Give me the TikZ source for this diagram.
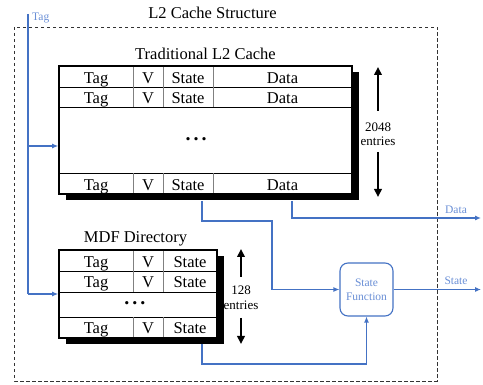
\documentclass[tikz,border=0pt]{standalone}
\usepackage{fontspec}
\setmainfont{Liberation Serif}
\usetikzlibrary{arrows.meta,shadows}
\definecolor{blu}{HTML}{4472C4}
\definecolor{blulight}{HTML}{6A8FD6}
\begin{document}
\begin{tikzpicture}[x=1pt,y=-1pt,
  tabframe/.style={draw, line width=1.6pt, fill=white, inner sep=0pt,
    general shadow={fill=black, shadow xshift=6.5pt, shadow yshift=-6.5pt}},
  rowline/.style={line width=0.9pt, black},
  colline/.style={line width=0.9pt, gray},
  celltxt/.style={anchor=base, inner sep=0pt, font=\fontsize{16.5}{18}\selectfont},
  titletxt/.style={anchor=base, inner sep=0pt, font=\fontsize{16.5}{18}\selectfont},
  smalltxt/.style={inner sep=0pt, font=\fontsize{13}{14}\selectfont},
  bluetxt/.style={inner sep=0pt, text=blulight, font=\fontsize{11.5}{12}\selectfont},
  bluline/.style={draw=blu, line width=1.1pt},
  bluarrow/.style={bluline, -{Latex[length=6pt,width=5pt]}},
  bigarrow/.style={line width=2.4pt, -{Triangle[length=8pt,width=7.5pt]}},
  sfbox/.style={draw=blu, line width=1.1pt, rounded corners=8pt, fill=white,
    minimum width=53pt, minimum height=53pt, inner sep=0pt, align=center,
    text=blulight, font=\fontsize{11.5}{13.5}\selectfont},
  dotstxt/.style={inner sep=0pt, font=\fontsize{20}{22}\selectfont\bfseries}
]
\useasboundingbox (0,0) rectangle (483,385);

% outer dashed box
\draw[dash pattern=on 3.5pt off 2.5pt, line width=0.8pt, black!80] (14,27) rectangle (437,381);
\node[titletxt] (title) at (212.5,18.5) {L2 Cache Structure};

% ---------------- Traditional L2 cache
\node[titletxt] (tradtitle) at (205.5,59.5) {Traditional L2 Cache};
\node[tabframe, minimum width=293pt, minimum height=128pt] (trad) at (205.5,130) {};
\foreach \y in {87,107.5,173} \draw[rowline] (59,\y) -- (352,\y);
\foreach \x in {133,163,213} {
  \draw[colline] (\x,67) -- (\x,107.5);
  \draw[colline] (\x,173) -- (\x,193);
}
\foreach \b/\r in {83.5/a,104/b,190.5/c} {
  \node[celltxt] (tag\r) at (96,\b) {Tag};
  \node[celltxt] (v\r) at (148,\b) {V};
  \node[celltxt] (st\r) at (188,\b) {State};
  \node[celltxt] (da\r) at (282.5,\b) {Data};
}
\node[dotstxt] (tdots) at (196,139.5) {.\hspace{3pt}.\hspace{3pt}.};

% 2048 entries
\coordinate (u1s) at (378,111);
\coordinate (u1e) at (378,67);
\coordinate (d1s) at (378,152);
\coordinate (d1e) at (378,197);
\draw[bigarrow] (u1s) -- (u1e);
\draw[bigarrow] (d1s) -- (d1e);
\node[smalltxt] (n2048) at (378,127) {2048};
\node[smalltxt] (ent1) at (378,141) {entries};

% ---------------- MDF directory
\node[titletxt] (mdftitle) at (135.5,243) {MDF Directory};
\node[tabframe, minimum width=158pt, minimum height=88pt] (mdf) at (138,294) {};
\foreach \y in {271,292,317} \draw[rowline] (59,\y) -- (217,\y);
\foreach \x in {133,163} {
  \draw[colline] (\x,251) -- (\x,292);
  \draw[colline] (\x,317) -- (\x,337);
}
\foreach \b/\r in {267.5/a,288/b,334/c} {
  \node[celltxt] (mtag\r) at (96,\b) {Tag};
  \node[celltxt] (mv\r) at (148,\b) {V};
  \node[celltxt] (mst\r) at (190,\b) {State};
}
\node[dotstxt] (mdots) at (135,303.5) {.\hspace{3pt}.\hspace{3pt}.};

% 128 entries
\coordinate (u2s) at (241,277);
\coordinate (u2e) at (241,249);
\coordinate (d2s) at (241,318);
\coordinate (d2e) at (241,344);
\draw[bigarrow] (u2s) -- (u2e);
\draw[bigarrow] (d2s) -- (d2e);
\node[smalltxt] (n128) at (241,290) {128};
\node[smalltxt] (ent2) at (241,305) {entries};

% ---------------- State function
\node[sfbox] (sf) at (366.5,289.5) {State\\Function};

% ---------------- Tag input
\coordinate (tagtop) at (28,14);
\coordinate (tagbot) at (28,294);
\coordinate (tagtrad) at (28,146);
\node[bluetxt, anchor=west] (taglbl) at (32,17.5) {Tag};
\draw[bluline] (tagtop) -- (tagbot);
\draw[bluarrow] (tagtrad) -- (tagtrad -| trad.west);
\draw[bluarrow] (tagbot) -- (tagbot -| mdf.west);

% ---------------- Data output
\coordinate (dstart) at (292,201);
\coordinate (dataout) at (481,218);
\draw[bluarrow] (dstart) |- (dataout);
\node[bluetxt] (datalbl) at (456,210) {Data};

% ---------------- State from traditional
\coordinate (tsstart) at (202,201);
\coordinate (bend1) at (272,221);
\draw[bluarrow] (tsstart) |- (bend1) |- (sf.west);

% ---------------- State from MDF
\coordinate (msstart) at (202,344);
\coordinate (bend2) at (366.5,364);
\draw[bluarrow] (msstart) |- (bend2) -- (sf.south);

% ---------------- State output
\coordinate (stateout) at (481,289.5);
\draw[bluarrow] (sf.east) -- (stateout);
\node[bluetxt] (statelbl) at (456,281) {State};
\end{tikzpicture}
\end{document}
